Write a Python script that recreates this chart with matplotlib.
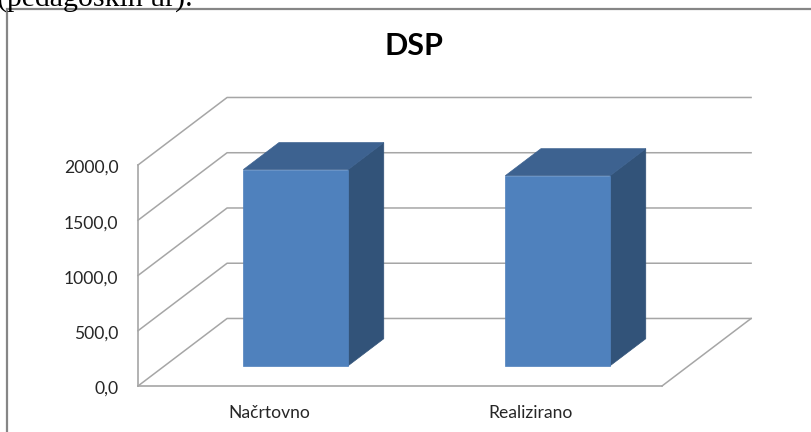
import matplotlib
matplotlib.use("Agg")
import matplotlib.pyplot as plt
from matplotlib.patches import Polygon, Rectangle
from matplotlib.transforms import ScaledTranslation

categories = ["Načrtovno", "Realizirano"]
values = [1775, 1720]
y_ticks = [0, 500, 1000, 1500, 2000]
y_labels = ["0,0", "500,0", "1000,0", "1500,0", "2000,0"]
title = "DSP"
page_text = "(pedagoških ur)."

W, H = 811, 432
DEPTH_X = 0.34   # how far the back wall is shifted, in category units
DEPTH_Y = 611    # same, in value units
BAR_HALF = 0.2
BAR_Z = (0.30, 0.70)

FRONT = "#4f81bd"
TOP = "#3d6290"
SIDE = "#325379"
GRID = "#a6a6a6"
TEXT = "#262626"


def proj(x, v, z):
    return x + z * DEPTH_X, v + z * DEPTH_Y


plt.rcParams["font.family"] = ["Lato", "DejaVu Sans"]
fig = plt.figure(figsize=(W / 100, H / 100), dpi=100, facecolor="white")

# grey frame of the embedded chart, only its left and top edges are in the crop
fig.add_artist(Rectangle((7 / W, -0.05), 1, 1 - 9 / H + 0.05, transform=fig.transFigure,
                         facecolor="white", edgecolor="#868686", linewidth=1.6, zorder=-1))
fig.text(-3 / W, 1 + 15 / H, page_text, family="Liberation Serif", fontsize=21.5, color="black",
         ha="left", va="top")

ax = fig.add_axes([138 / W, (H - 386) / H, 524 / W, 221 / H])
ax.set_xlim(0, len(categories))
ax.set_ylim(0, y_ticks[-1])
ax.patch.set_visible(False)
for s in ["top", "right"]:
    ax.spines[s].set_visible(False)
for s in ["left", "bottom"]:
    ax.spines[s].set_color(GRID)
    ax.spines[s].set_linewidth(1.2)

xmax = len(categories)
for v in y_ticks:
    bx, by = proj(0, v, 1)
    ex, ey = proj(xmax, v, 1)
    ax.plot([0, bx, ex], [v, by, ey], color=GRID, lw=1.1, clip_on=False, zorder=1)
fx, fy = proj(xmax, 0, 1)
ax.plot([xmax, fx], [0, fy], color=GRID, lw=1.1, clip_on=False, zorder=1)

for i, val in enumerate(values):
    x0, x1 = i + 0.5 - BAR_HALF, i + 0.5 + BAR_HALF
    z0, z1 = BAR_Z
    front = [proj(x0, 0, z0), proj(x1, 0, z0), proj(x1, val, z0), proj(x0, val, z0)]
    side = [proj(x1, 0, z0), proj(x1, 0, z1), proj(x1, val, z1), proj(x1, val, z0)]
    top = [proj(x0, val, z0), proj(x1, val, z0), proj(x1, val, z1), proj(x0, val, z1)]
    for pts, col in [(side, SIDE), (top, TOP), (front, FRONT)]:
        ax.add_patch(Polygon(pts, closed=True, facecolor=col, edgecolor=col, linewidth=0.5,
                             clip_on=False, zorder=3))

ax.set_yticks(y_ticks, y_labels)
ax.set_xticks([i + 0.5 for i in range(len(categories))], categories)
ax.tick_params(axis="both", length=0, labelsize=12.6, labelcolor=TEXT)
ax.tick_params(axis="y", pad=14)
ax.tick_params(axis="x", pad=14)

# value labels sit a touch below their gridline start in the reference
nudge = ScaledTranslation(0, -1.5 / 100, fig.dpi_scale_trans)
for lab in ax.get_yticklabels():
    lab.set_transform(lab.get_transform() + nudge)

fig.text(414 / W, 1 - 46 / H, title, fontsize=22, fontweight="bold", color="black",
         ha="center", va="center")

fig.savefig("out.png", dpi=100)
